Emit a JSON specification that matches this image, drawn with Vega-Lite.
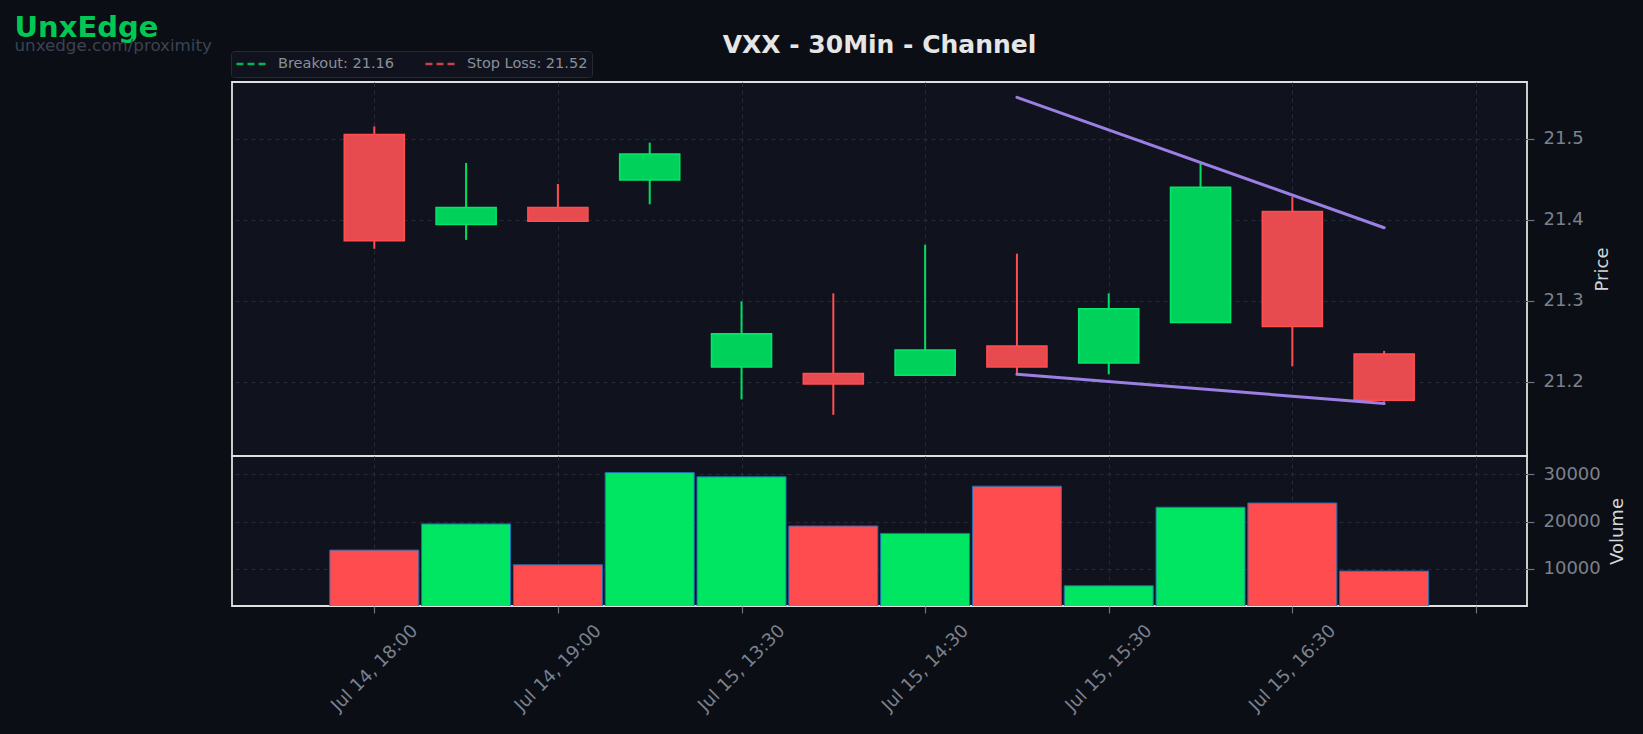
{
  "$schema": "https://vega.github.io/schema/vega-lite/v6.json",
  "autosize": {"type": "none"},
  "padding": {"left": 232, "top": 82, "right": 1411, "bottom": 652},
  "background": "#0b0e15",
  "bounds": "flush",
  "spacing": 0,
  "config": {
    "font": "DejaVu Sans",
    "view": {"fill": "#10131e", "stroke": "#e0e0e0", "strokeWidth": 1.8},
    "axis": {
      "domain": false,
      "gridColor": "#262b38",
      "gridDash": [4, 4],
      "gridWidth": 1,
      "tickColor": "#6b7280",
      "tickSize": 7,
      "tickWidth": 1.2,
      "labelColor": "#7b818d",
      "labelFont": "DejaVu Sans",
      "labelFontSize": 18,
      "titleColor": "#d3d6dc",
      "titleFont": "DejaVu Sans",
      "titleFontSize": 18,
      "titleFontWeight": "normal"
    },
    "legend": {
      "orient": "none",
      "legendX": -1,
      "legendY": -31,
      "direction": "horizontal",
      "symbolType": "stroke",
      "symbolSize": 900,
      "symbolStrokeWidth": 2.5,
      "symbolDash": [7, 4],
      "clipHeight": 18,
      "labelColor": "#8a8f99",
      "labelFont": "DejaVu Sans",
      "labelFontSize": 14.5,
      "fillColor": "#10131e",
      "strokeColor": "#262a36",
      "padding": 4,
      "cornerRadius": 3,
      "columnPadding": 29,
      "labelOffset": 10
    }
  },
  "title": {
    "text": "UnxEdge",
    "subtitle": "unxedge.com/proximity",
    "anchor": "start",
    "frame": "bounds",
    "orient": "top",
    "dx": -216,
    "dy": 23,
    "offset": 0,
    "font": "DejaVu Sans",
    "fontSize": 29,
    "fontWeight": "bold",
    "color": "#00c853",
    "subtitleFont": "DejaVu Sans",
    "subtitleFontSize": 16.7,
    "subtitleColor": "#3c4352",
    "subtitlePadding": -5
  },
  "datasets": {
    "candles": [
      {"i": 0, "time": "Jul 14, 18:00", "open": 21.505, "high": 21.515, "low": 21.364, "close": 21.374, "volume": 13980},
      {"i": 1, "time": "Jul 14, 18:30", "open": 21.394, "high": 21.470, "low": 21.375, "close": 21.415, "volume": 19495},
      {"i": 2, "time": "Jul 14, 19:00", "open": 21.415, "high": 21.444, "low": 21.398, "close": 21.398, "volume": 10884},
      {"i": 3, "time": "Jul 14, 19:30", "open": 21.449, "high": 21.495, "low": 21.419, "close": 21.481, "volume": 30295},
      {"i": 4, "time": "Jul 15, 13:30", "open": 21.218, "high": 21.299, "low": 21.178, "close": 21.259, "volume": 29410},
      {"i": 5, "time": "Jul 15, 14:00", "open": 21.210, "high": 21.309, "low": 21.159, "close": 21.197, "volume": 19050},
      {"i": 6, "time": "Jul 15, 14:30", "open": 21.208, "high": 21.369, "low": 21.208, "close": 21.239, "volume": 17495},
      {"i": 7, "time": "Jul 15, 15:00", "open": 21.244, "high": 21.358, "low": 21.208, "close": 21.218, "volume": 27430},
      {"i": 8, "time": "Jul 15, 15:30", "open": 21.223, "high": 21.309, "low": 21.209, "close": 21.290, "volume": 6465},
      {"i": 9, "time": "Jul 15, 16:00", "open": 21.273, "high": 21.469, "low": 21.273, "close": 21.440, "volume": 23010},
      {"i": 10, "time": "Jul 15, 16:30", "open": 21.410, "high": 21.428, "low": 21.219, "close": 21.268, "volume": 23890},
      {"i": 11, "time": "Jul 15, 17:00", "open": 21.234, "high": 21.238, "low": 21.175, "close": 21.177, "volume": 9560}
    ],
    "levels": [
      {"label": "Breakout: 21.16", "price": 21.159},
      {"label": "Stop Loss: 21.52", "price": 21.515}
    ],
    "trend": [
      {"line": "upper", "i": 7, "price": 21.551},
      {"line": "upper", "i": 11, "price": 21.390},
      {"line": "lower", "i": 7, "price": 21.209},
      {"line": "lower", "i": 11, "price": 21.173}
    ]
  },
  "vconcat": [
    {
      "width": 1295,
      "height": 374,
      "title": {
        "text": "VXX - 30Min - Channel",
        "anchor": "middle",
        "frame": "group",
        "font": "DejaVu Sans",
        "fontSize": 25,
        "fontWeight": "bold",
        "color": "#e6e6e6",
        "offset": 0,
        "dy": -24
      },
      "layer": [
        {
          "data": {"name": "levels"},
          "mark": {"type": "rule", "strokeWidth": 2, "strokeDash": [8, 4]},
          "encoding": {
            "y": {"field": "price", "type": "quantitative", "scale": {"domain": [21.1082, 21.5699], "nice": false, "zero": false}},
            "color": {
              "field": "label",
              "type": "nominal",
              "scale": {"domain": ["Breakout: 21.16", "Stop Loss: 21.52"], "range": ["#00b451", "#c9404a"]},
              "legend": {"title": null}
            }
          }
        },
        {
          "data": {"name": "candles"},
          "mark": {"type": "rule", "strokeWidth": 2},
          "encoding": {
            "x": {"field": "i", "type": "quantitative"},
            "y": {"field": "low", "type": "quantitative"},
            "y2": {"field": "high"},
            "color": {"condition": {"test": "datum.close >= datum.open", "value": "#00e060"}, "value": "#ff4d50"}
          }
        },
        {
          "data": {"name": "candles"},
          "mark": {"type": "bar", "width": 60, "strokeWidth": 1.6},
          "encoding": {
            "x": {"field": "i", "type": "quantitative"},
            "y": {"field": "open", "type": "quantitative"},
            "y2": {"field": "close"},
            "fill": {"condition": {"test": "datum.close >= datum.open", "value": "#00d15a"}, "value": "#e84b4f"},
            "stroke": {"condition": {"test": "datum.close >= datum.open", "value": "#00e66a"}, "value": "#ff4d50"}
          }
        },
        {
          "data": {"name": "trend"},
          "mark": {"type": "line", "strokeWidth": 3, "strokeCap": "round", "color": "#9b7fe3"},
          "encoding": {
            "x": {"field": "i", "type": "quantitative"},
            "y": {"field": "price", "type": "quantitative"},
            "detail": {"field": "line", "type": "nominal"}
          }
        }
      ],
      "encoding": {
        "x": {
          "field": "i",
          "type": "quantitative",
          "scale": {"domain": [-1.55, 12.556], "nice": false, "zero": false, "padding": 0},
          "axis": {"values": [0, 2, 4, 6, 8, 10, 12], "labels": false, "ticks": false, "title": null, "grid": true}
        },
        "y": {
          "field": "price",
          "type": "quantitative",
          "scale": {"domain": [21.1082, 21.5699], "nice": false, "zero": false},
          "axis": {"orient": "right", "values": [21.2, 21.3, 21.4, 21.5], "format": ".1f", "title": "Price", "titleAngle": 270, "labelPadding": 9, "titlePadding": 28, "grid": true}
        }
      }
    },
    {
      "width": 1295,
      "height": 150,
      "data": {"name": "candles"},
      "mark": {"type": "bar", "width": 89, "stroke": "#1f6fb4", "strokeWidth": 1, "clip": true},
      "encoding": {
        "x": {
          "field": "i",
          "type": "quantitative",
          "scale": {"domain": [-1.55, 12.556], "nice": false, "zero": false, "padding": 0},
          "axis": {
            "values": [0, 2, 4, 6, 8, 10, 12],
            "labelExpr": "['Jul 14, 18:00', 'Jul 14, 19:00', 'Jul 15, 13:30', 'Jul 15, 14:30', 'Jul 15, 15:30', 'Jul 15, 16:30', ''][datum.value / 2]",
            "labelAngle": -45,
            "labelAlign": "center",
            "labelBaseline": "middle",
            "labelPadding": 55,
            "title": null,
            "grid": true
          }
        },
        "y": {
          "field": "volume",
          "type": "quantitative",
          "scale": {"domain": [2210, 33790], "nice": false, "zero": false},
          "axis": {"orient": "right", "values": [10000, 20000, 30000], "format": "d", "title": "Volume", "titleAngle": 270, "labelPadding": 9, "titlePadding": 26, "grid": true}
        },
        "fill": {"condition": {"test": "datum.close >= datum.open", "value": "#00e663"}, "value": "#ff4d4f"}
      }
    }
  ]
}
